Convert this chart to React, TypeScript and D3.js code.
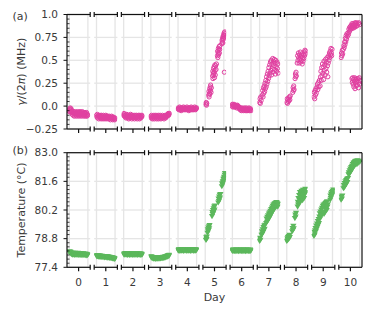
import React from "react";
import * as d3 from "d3";

// ---------- data (hour within day, value) ----------
const days = [0, 1, 2, 3, 4, 5, 6, 7, 8, 9, 10];

const gammaDay0 = [[0,-0.06],[0.4,-0.03],[0.8,-0.05],[1.2,-0.02],[1.6,-0.04],[2,-0.06],[2.4,-0.03],[2.8,-0.07],[3.2,-0.05],[3.8,-0.09],[4.3,-0.07],[4.8,-0.1],[5.3,-0.06],[5.8,-0.08],[6.3,-0.11],[6.8,-0.07],[7.3,-0.09],[7.8,-0.06],[8.3,-0.1],[8.8,-0.08],[9.3,-0.11],[9.8,-0.07],[10.3,-0.09],[10.8,-0.06],[11.3,-0.1],[11.8,-0.08],[12.3,-0.11],[12.8,-0.07],[13.3,-0.09],[13.8,-0.06],[14.3,-0.1],[14.8,-0.08],[15.3,-0.11],[15.8,-0.07],[16.3,-0.09],[16.8,-0.06],[17.3,-0.1],[17.8,-0.08],[18.3,-0.11],[18.8,-0.07],[19.3,-0.09],[19.8,-0.1],[20.3,-0.07],[20.8,-0.11],[21.3,-0.08],[21.8,-0.1],[22.3,-0.07],[22.8,-0.11],[23.3,-0.09],[23.8,-0.1]];
const gammaDay1 = [[0,-0.1],[0.5,-0.12],[1,-0.09],[1.5,-0.13],[2,-0.11],[2.5,-0.1],[3,-0.14],[3.5,-0.11],[4,-0.12],[4.5,-0.1],[5,-0.13],[5.5,-0.11],[6,-0.14],[6.5,-0.1],[7,-0.12],[7.5,-0.13],[8,-0.11],[8.5,-0.14],[9,-0.1],[9.5,-0.12],[10,-0.13],[10.5,-0.11],[11,-0.14],[11.5,-0.12],[12,-0.1],[12.5,-0.13],[13,-0.11],[13.5,-0.14],[14,-0.12],[14.5,-0.11],[15,-0.13],[15.5,-0.12],[16,-0.14],[16.5,-0.11],[17,-0.13],[17.5,-0.12],[18,-0.15],[18.5,-0.12],[19,-0.13],[19.5,-0.11],[20,-0.14],[20.5,-0.12],[21,-0.15],[21.5,-0.13],[22,-0.12],[22.5,-0.14],[23,-0.13],[23.5,-0.15],[24,-0.13]];
const gammaDay2 = [[0,-0.1],[0.5,-0.08],[1,-0.11],[1.5,-0.09],[2,-0.12],[2.5,-0.1],[3,-0.13],[3.5,-0.11],[4,-0.09],[4.5,-0.12],[5,-0.1],[5.5,-0.13],[6,-0.11],[6.5,-0.14],[7,-0.1],[7.5,-0.12],[8,-0.11],[8.5,-0.13],[9,-0.09],[9.5,-0.12],[10,-0.1],[10.5,-0.14],[11,-0.11],[11.5,-0.12],[12,-0.1],[12.5,-0.13],[13,-0.11],[13.5,-0.12],[14,-0.14],[14.5,-0.1],[15,-0.12],[15.5,-0.11],[16,-0.13],[16.5,-0.1],[17,-0.12],[17.5,-0.14],[18,-0.11],[18.5,-0.12],[19,-0.1],[19.5,-0.13],[20,-0.11],[20.5,-0.14],[21,-0.1],[21.5,-0.12],[22,-0.13],[22.5,-0.11],[23,-0.12],[23.5,-0.1],[24,-0.11]];
const gammaDay3 = [[0,-0.11],[0.5,-0.13],[1,-0.1],[1.5,-0.12],[2,-0.14],[2.5,-0.11],[3,-0.13],[3.5,-0.12],[4,-0.1],[4.5,-0.14],[5,-0.12],[5.5,-0.11],[6,-0.13],[6.5,-0.1],[7,-0.12],[7.5,-0.14],[8,-0.11],[8.5,-0.13],[9,-0.12],[9.5,-0.1],[10,-0.14],[10.5,-0.12],[11,-0.11],[11.5,-0.13],[12,-0.1],[12.5,-0.12],[13,-0.14],[13.5,-0.11],[14,-0.13],[14.5,-0.12],[15,-0.1],[15.5,-0.13],[16,-0.11],[16.5,-0.12],[17,-0.14],[17.5,-0.11],[18,-0.12],[18.5,-0.1],[19,-0.13],[19.5,-0.11],[20,-0.12],[20.5,-0.1],[21,-0.11],[21.5,-0.09],[22,-0.1],[22.5,-0.08],[23,-0.1],[23.5,-0.09],[24,-0.08]];
const gammaDay4 = [[0,-0.03],[0.5,-0.02],[1,-0.04],[1.5,-0.03],[2,-0.01],[2.5,-0.04],[3,-0.02],[3.5,-0.03],[4,-0.05],[4.5,-0.02],[5,-0.03],[5.5,-0.04],[6,-0.02],[6.5,-0.03],[7,-0.01],[7.5,-0.04],[8,-0.03],[8.5,-0.02],[9,-0.04],[9.5,-0.03],[10,-0.02],[10.5,-0.04],[11,-0.03],[11.5,-0.01],[12,-0.03],[12.5,-0.04],[13,-0.02],[13.5,-0.03],[14,-0.05],[14.5,-0.02],[15,-0.03],[15.5,-0.04],[16,-0.02],[16.5,-0.03],[17,-0.01],[17.5,-0.04],[18,-0.03],[18.5,-0.02],[19,-0.04],[19.5,-0.03],[20,-0.02],[20.5,-0.04],[21,-0.03],[21.5,-0.01],[22,-0.03],[22.5,-0.04],[23,-0.02],[23.5,-0.03],[24,-0.02]];
const gammaDay5 = [[1,0.02],[1.3,0.04],[1.7,0.01],[2,0.03],[4.5,0.12],[4.8,0.16],[5,0.1],[5.5,0.14],[5.8,0.19],[6,0.13],[6.5,0.21],[6.8,0.17],[7,0.23],[7.5,0.15],[8,0.2],[9.5,0.33],[9.8,0.38],[10,0.3],[10.5,0.36],[10.8,0.41],[11,0.34],[11.5,0.43],[11.8,0.37],[12,0.31],[12.5,0.45],[12.8,0.39],[13,0.34],[13.5,0.44],[14,0.4],[14.5,0.46],[15.8,0.55],[16,0.6],[16.3,0.53],[16.7,0.58],[17,0.63],[17.3,0.56],[17.7,0.61],[18,0.65],[18.3,0.58],[18.7,0.62],[19,0.66],[21.5,0.68],[21.8,0.72],[22,0.7],[22.5,0.74],[22.8,0.69],[23,0.76],[23.5,0.73],[23.8,0.78],[24,0.75],[24.5,0.8],[24.8,0.77],[25.2,0.81],[25.5,0.79],[24.7,0.37]];
const gammaDay6 = [[-0.5,0.0],[0,0.02],[0.5,-0.01],[1,0.01],[1.5,0.0],[2,0.02],[2.5,-0.01],[3,0.01],[3.5,0.0],[4,-0.01],[4.5,0.01],[5,0.0],[5.5,-0.02],[6,0.0],[6.5,0.01],[7,-0.01],[7.5,0.0],[8,-0.02],[8.5,-0.01],[9,-0.03],[9.5,-0.02],[10,-0.04],[10.5,-0.02],[11,-0.03],[11.5,-0.05],[12,-0.03],[12.5,-0.02],[13,-0.04],[13.5,-0.03],[14,-0.05],[14.5,-0.03],[15,-0.04],[15.5,-0.02],[16,-0.04],[16.5,-0.05],[17,-0.03],[17.5,-0.04],[18,-0.02],[18.5,-0.05],[19,-0.03],[19.5,-0.04],[20,-0.05],[20.5,-0.03],[21,-0.04],[21.5,-0.02],[22,-0.05],[22.5,-0.03],[23,-0.04],[23.5,-0.03],[24,-0.05]];
const gammaDay7 = [[0,0.04],[0.5,0.08],[1,0.03],[1.5,0.1],[2,0.06],[3.5,0.12],[4,0.17],[4.5,0.1],[5,0.2],[5.5,0.14],[6,0.22],[6.5,0.16],[7,0.25],[7.5,0.19],[8,0.28],[8.5,0.21],[9,0.32],[9.5,0.24],[10,0.35],[10.5,0.27],[11,0.38],[11.5,0.3],[12,0.42],[12.5,0.33],[13,0.45],[13.5,0.36],[14,0.48],[14.5,0.39],[15,0.5],[15.5,0.34],[16,0.46],[16.5,0.41],[17,0.52],[17.5,0.37],[18,0.49],[18.5,0.44],[19,0.51],[19.5,0.4],[20,0.47],[20.5,0.35],[21,0.5],[21.5,0.43],[22,0.38],[22.5,0.48],[23,0.41],[23.5,0.46],[24,0.36]];
const gammaDay8 = [[0,0.04],[0.5,0.08],[1,0.03],[1.5,0.07],[2,0.05],[2.5,0.09],[3,0.06],[3.5,0.1],[4,0.07],[4.5,0.11],[7.8,0.15],[8.2,0.2],[8.6,0.17],[9,0.22],[9.5,0.18],[10.8,0.3],[11.2,0.35],[11.6,0.32],[12,0.37],[12.4,0.33],[13.5,0.47],[14,0.55],[14.5,0.5],[15,0.58],[15.5,0.53],[16,0.47],[16.5,0.56],[17,0.51],[17.5,0.59],[18,0.48],[18.5,0.54],[19,0.5],[19.5,0.57],[20,0.46],[20.5,0.53],[21,0.49],[21.5,0.56],[22,0.52],[22.5,0.59],[23,0.55],[23.5,0.61],[24,0.57],[24.5,0.6]];
const gammaDay9 = [[0,0.1],[0.5,0.15],[1,0.08],[1.5,0.17],[2,0.12],[2.5,0.19],[3,0.14],[4,0.21],[4.5,0.24],[5,0.18],[6,0.26],[6.5,0.21],[7,0.28],[8,0.22],[8.5,0.32],[9,0.38],[9.5,0.28],[10,0.42],[10.5,0.33],[11,0.46],[11.5,0.36],[12,0.43],[12.5,0.29],[13,0.49],[13.5,0.39],[14,0.45],[14.5,0.34],[15,0.51],[15.5,0.41],[16,0.48],[16.5,0.37],[17,0.53],[17.5,0.44],[18,0.32],[18.5,0.47],[19,0.55],[19.5,0.5],[20,0.58],[20.5,0.53],[21,0.6],[21.5,0.56],[22,0.63],[22.5,0.58],[23,0.55],[23.5,0.62]];
const gammaDay10 = [[0,0.53],[0.5,0.58],[1,0.55],[1.5,0.61],[2,0.57],[3,0.62],[3.5,0.66],[4,0.64],[4.5,0.7],[5,0.67],[5.5,0.74],[6,0.7],[6.5,0.77],[7,0.73],[7.5,0.79],[8,0.76],[9,0.8],[9.5,0.78],[10,0.84],[10.5,0.81],[11,0.86],[11.5,0.83],[12,0.87],[12.5,0.84],[13,0.88],[13.5,0.85],[14,0.9],[14.5,0.86],[15,0.88],[15.5,0.85],[16,0.9],[16.5,0.87],[17,0.89],[17.5,0.86],[18,0.91],[18.5,0.88],[19,0.9],[19.5,0.87],[20,0.91],[21,0.88],[22,0.9],[23,0.91],[24,0.89],[14,0.3],[14.5,0.26],[15,0.31],[15.5,0.24],[16,0.29],[16.5,0.21],[17,0.27],[17.5,0.31],[18,0.19],[18.5,0.25],[19,0.29],[19.5,0.22],[20,0.3],[20.5,0.27],[21,0.23],[22,0.3],[22.5,0.2],[23,0.26],[23.5,0.31],[24,0.24],[24.5,0.28]];

const tempDay0 = [[0,78.16],[0.5,78.2],[1,78.12],[1.5,78.18],[2,78.1],[2.5,78.14],[3,78.06],[3.5,78.12],[4,78.03],[4.5,78.09],[5,78.13],[5.5,78.04],[6,78.1],[6.5,78.02],[7,78.08],[7.5,78.12],[8,78.03],[8.5,78.09],[9,78.05],[9.5,78.11],[10,78.02],[10.5,78.07],[11,78.12],[11.5,78.04],[12,78.09],[12.5,78.01],[13,78.07],[13.5,78.11],[14,78.03],[14.5,78.08],[15,78.02],[15.5,78.1],[16,78.05],[16.5,78.01],[17,78.08],[17.5,78.04],[18,78.1],[18.5,78.02],[19,78.07],[19.5,78.03],[20,78.09],[20.5,78.01],[21,78.06],[21.5,78.02],[22,78.08],[22.5,78.0],[23,78.05],[23.5,78.02],[24,78.04]];
const tempDay1 = [[0,78.0],[0.5,77.95],[1,78.02],[1.5,77.96],[2,77.99],[2.5,77.93],[3,78.0],[3.5,77.95],[4,77.98],[4.5,77.92],[5,77.99],[5.5,77.94],[6,77.97],[6.5,77.92],[7,77.98],[7.5,77.93],[8,77.96],[8.5,77.91],[9,77.97],[9.5,77.93],[10,77.96],[10.5,77.9],[11,77.95],[11.5,77.92],[12,77.96],[12.5,77.9],[13,77.94],[13.5,77.91],[14,77.95],[14.5,77.89],[15,77.94],[15.5,77.9],[16,77.93],[16.5,77.88],[17,77.93],[17.5,77.89],[18,77.92],[18.5,77.87],[19,77.91],[19.5,77.88],[20,77.9],[20.5,77.85],[21,77.89],[21.5,77.86],[22,77.88],[22.5,77.84],[23,77.87],[23.5,77.83],[24,77.85]];
const tempDay2 = [[0,78.08],[0.5,78.03],[1,78.1],[1.5,78.04],[2,78.07],[2.5,78.11],[3,78.03],[3.5,78.08],[4,78.05],[4.5,78.1],[5,78.02],[5.5,78.07],[6,78.11],[6.5,78.04],[7,78.08],[7.5,78.02],[8,78.06],[8.5,78.1],[9,78.03],[9.5,78.07],[10,78.05],[10.5,78.11],[11,78.02],[11.5,78.08],[12,78.04],[12.5,78.09],[13,78.03],[13.5,78.07],[14,78.1],[14.5,78.02],[15,78.06],[15.5,78.09],[16,78.03],[16.5,78.08],[17,78.05],[17.5,78.1],[18,78.02],[18.5,78.07],[19,78.04],[19.5,78.09],[20,78.03],[20.5,78.06],[21,78.1],[21.5,78.02],[22,78.07],[22.5,78.04],[23,78.09],[23.5,78.03],[24,78.06]];
const tempDay3 = [[0,77.96],[0.5,77.9],[1,77.94],[1.5,77.87],[2,77.92],[2.5,77.86],[3,77.9],[3.5,77.84],[4,77.89],[4.5,77.85],[5,77.91],[5.5,77.84],[6,77.88],[6.5,77.83],[7,77.9],[7.5,77.85],[8,77.88],[8.5,77.84],[9,77.9],[9.5,77.86],[10,77.89],[10.5,77.84],[11,77.9],[11.5,77.86],[12,77.91],[12.5,77.85],[13,77.89],[13.5,77.87],[14,77.92],[14.5,77.86],[15,77.9],[15.5,77.88],[16,77.93],[16.5,77.87],[17,77.91],[17.5,77.89],[18,77.94],[18.5,77.9],[19,77.95],[19.5,77.91],[20,77.96],[20.5,77.93],[21,77.98],[21.5,77.94],[22,78.0],[22.5,77.96],[23,78.02],[23.5,77.98],[24,78.03]];
const tempDay4 = [[0,78.27],[0.5,78.23],[1,78.3],[1.5,78.24],[2,78.28],[2.5,78.22],[3,78.29],[3.5,78.25],[4,78.31],[4.5,78.23],[5,78.27],[5.5,78.3],[6,78.24],[6.5,78.28],[7,78.22],[7.5,78.29],[8,78.25],[8.5,78.31],[9,78.23],[9.5,78.27],[10,78.3],[10.5,78.24],[11,78.28],[11.5,78.22],[12,78.29],[12.5,78.25],[13,78.31],[13.5,78.23],[14,78.27],[14.5,78.3],[15,78.24],[15.5,78.28],[16,78.22],[16.5,78.29],[17,78.25],[17.5,78.31],[18,78.23],[18.5,78.27],[19,78.3],[19.5,78.24],[20,78.28],[20.5,78.22],[21,78.29],[21.5,78.25],[22,78.3],[22.5,78.23],[23,78.28],[23.5,78.25],[24,78.29]];
const tempDay5 = [[1,78.75],[1.3,78.88],[1.7,78.8],[2,78.92],[3,79.1],[3.3,79.28],[3.7,79.18],[4,79.36],[4.4,79.24],[4.8,79.42],[5.2,79.32],[5.6,79.48],[8.8,79.92],[9.2,80.12],[9.6,80.02],[10,80.22],[10.4,80.08],[10.8,80.3],[11.2,80.16],[11.6,80.38],[12,80.24],[12.4,80.44],[16.8,80.58],[17.2,80.78],[17.6,80.66],[18,80.88],[18.4,80.74],[18.8,80.96],[19.2,80.82],[19.6,81.0],[21.5,81.38],[21.9,81.52],[22.3,81.46],[22.7,81.62],[23.1,81.56],[23.5,81.74],[23.9,81.66],[24.3,81.84],[24.7,81.78],[25.1,81.94],[25.5,82.02]];
const tempDay6 = [[-0.5,78.26],[0,78.22],[0.5,78.28],[1,78.21],[1.5,78.25],[2,78.29],[2.5,78.22],[3,78.26],[3.5,78.2],[4,78.27],[4.5,78.23],[5,78.29],[5.5,78.21],[6,78.25],[6.5,78.28],[7,78.22],[7.5,78.26],[8,78.2],[8.5,78.27],[9,78.23],[9.5,78.29],[10,78.21],[10.5,78.25],[11,78.28],[11.5,78.22],[12,78.26],[12.5,78.2],[13,78.27],[13.5,78.23],[14,78.29],[14.5,78.21],[15,78.25],[15.5,78.28],[16,78.22],[16.5,78.26],[17,78.2],[17.5,78.27],[18,78.23],[18.5,78.29],[19,78.21],[19.5,78.25],[20,78.28],[20.5,78.22],[21,78.26],[21.5,78.2],[22,78.27],[22.5,78.23],[23,78.28],[23.5,78.22],[24,78.25]];
const tempDay7 = [[0,78.7],[0.5,78.86],[1,78.76],[2.5,79.0],[3,79.18],[3.5,79.06],[4,79.28],[4.5,79.14],[5,79.38],[5.5,79.22],[6,79.46],[6.5,79.3],[7,79.5],[8.5,79.58],[9,79.8],[9.5,79.64],[10,79.88],[10.5,79.7],[11,79.96],[11.5,79.78],[12,80.04],[12.5,79.84],[13,80.1],[13.5,79.9],[14,80.18],[14.5,79.98],[15,80.26],[15.5,80.06],[16,80.34],[16.5,80.12],[17,80.42],[17.5,80.2],[18,80.48],[18.5,80.26],[19,80.52],[19.5,80.32],[20,80.56],[20.5,80.36],[21,80.58],[21.5,80.4],[22,80.6],[22.5,80.44],[23,80.55],[23.5,80.38],[24,80.52]];
const tempDay8 = [[0,78.7],[0.5,78.84],[1,78.74],[1.5,78.9],[2,78.8],[2.5,78.95],[3,78.84],[3.5,79.0],[4,78.9],[7,79.18],[7.5,79.34],[8,79.24],[8.5,79.44],[9,79.32],[10.5,79.82],[11,80.0],[11.5,79.9],[12,80.08],[14,80.38],[14.3,80.62],[14.7,80.48],[15,80.8],[15.5,80.56],[16,80.95],[16.5,80.7],[17,81.1],[17.5,80.6],[18,81.0],[18.5,80.75],[19,81.15],[19.5,80.85],[20,81.05],[20.5,80.7],[21,81.2],[21.5,80.9],[22,81.1],[22.5,80.8],[23,81.2],[23.5,81.0],[24,81.25],[24.5,81.1]];
const tempDay9 = [[0,78.95],[0.5,79.15],[1,79.02],[1.5,79.22],[2,79.34],[2.5,79.18],[3,79.46],[3.5,79.3],[4,79.56],[4.5,79.4],[5,79.68],[5.5,79.5],[6,79.78],[6.5,79.58],[7,79.9],[7.5,80.06],[8,79.8],[8.5,80.14],[9,79.92],[9.5,80.24],[10,79.98],[10.5,80.32],[11,80.06],[11.5,80.42],[12,80.14],[12.5,80.48],[13,80.02],[13.5,80.36],[14,80.52],[14.5,80.12],[15,80.56],[15.5,80.28],[16,80.6],[16.5,80.22],[17,80.64],[17.5,80.38],[18,80.5],[21,80.72],[21.3,80.92],[21.7,80.8],[22,81.02],[22.5,80.9],[23,81.1],[23.5,80.96],[24,81.16],[24.5,81.04],[25,81.22]];
const tempDay10 = [[0,80.72],[0.5,80.88],[1,80.78],[1.5,80.92],[3,81.28],[3.5,81.44],[4,81.32],[4.5,81.54],[5,81.4],[5.5,81.62],[6,81.46],[6.5,81.68],[7,81.52],[7.5,81.74],[8,81.58],[9,81.78],[9.5,81.96],[10,82.06],[10.5,81.98],[11,82.16],[11.5,82.04],[12,82.24],[12.5,82.1],[13,82.32],[13.5,82.18],[14,82.38],[14.5,82.24],[15,82.46],[15.5,82.3],[16,82.52],[16.5,82.36],[17,82.56],[17.5,82.4],[18,82.6],[18.5,82.44],[19,82.62],[19.5,82.48],[20,82.6],[20.5,82.46],[21,82.64],[22,82.52],[23,82.62],[24,82.56]];

const gammaByDay = [gammaDay0, gammaDay1, gammaDay2, gammaDay3, gammaDay4, gammaDay5, gammaDay6, gammaDay7, gammaDay8, gammaDay9, gammaDay10];
const tempByDay = [tempDay0, tempDay1, tempDay2, tempDay3, tempDay4, tempDay5, tempDay6, tempDay7, tempDay8, tempDay9, tempDay10];

const gammaTicks = [-0.25, 0, 0.25, 0.5, 0.75, 1.0];
const gammaTickLabels = ["\u22120.25", "0.0", "0.25", "0.5", "0.75", "1.0"];
const tempTicks = [77.4, 78.8, 80.2, 81.6, 83.0];
const tempTickLabels = ["77.4", "78.8", "80.2", "81.6", "83.0"];
const hourGrid = [0, 24];

// ---------- layout ----------
const X0 = 67;
const PERIOD = 27.18;
const SEG_W = 23.2;
const FONT = "DejaVu Sans, sans-serif";
const PINK = "#e040a0";
const GREEN = "#5cb85c";
const GRID = "#e5e5e5";
const TXT = "#3a3a3a";

const panels = [
  { key: "a", top: 14.5, bottom: 129, domain: [-0.25, 1.0], ticks: gammaTicks, labels: gammaTickLabels, minorStep: 0.05, data: gammaByDay, label: "(a)", labelY: 16.5, showX: false },
  { key: "b", top: 152.7, bottom: 267.3, domain: [77.4, 83.0], ticks: tempTicks, labels: tempTickLabels, minorStep: 0.2, data: tempByDay, label: "(b)", labelY: 150, showX: true },
];

function segScale(i: number) {
  const s = X0 + i * PERIOD;
  return d3.scaleLinear().domain([-3, 27]).range([s, s + SEG_W]);
}

const triPath = "M-3.1,-1.7L3.1,-1.7L0,3.4Z";

export default function App() {
  const W = 381, H = 315;
  return (
    <svg width={W} height={H} style={{ position: "absolute", left: 0, top: 0 }} fontFamily={FONT}>
      <defs>
        {panels.map((p) =>
          days.map((d, i) => {
            const xs = segScale(i);
            return (
              <clipPath id={`clip-${p.key}-${i}`} key={`${p.key}${i}`}>
                <rect x={xs.range()[0]} y={p.top} width={SEG_W} height={p.bottom - p.top} />
              </clipPath>
            );
          })
        )}
      </defs>
      {panels.map((p) => {
        const y = d3.scaleLinear().domain(p.domain).range([p.bottom, p.top]);
        const minors = d3.range(p.domain[0], p.domain[1] + 1e-9, p.minorStep).filter(
          (v) => !p.ticks.some((t) => Math.abs(t - v) < 1e-6)
        );
        return (
          <g key={p.key}>
            {days.map((d, i) => {
              const xs = segScale(i);
              const [x1, x2] = xs.range();
              return (
                <g key={`g${i}`}>
                  {p.ticks.map((t) => (
                    <line key={`h${t}`} x1={x1} x2={x2} y1={y(t)} y2={y(t)} stroke={GRID} strokeWidth={1.3} />
                  ))}
                  {hourGrid.map((h) => (
                    <line key={`v${h}`} x1={xs(h)} x2={xs(h)} y1={p.top} y2={p.bottom} stroke={GRID} strokeWidth={1.3} />
                  ))}
                </g>
              );
            })}
            {days.map((d, i) => {
              const xs = segScale(i);
              return (
                <g key={`d${i}`} clipPath={`url(#clip-${p.key}-${i})`}>
                  {p.data[i].map(([h, v], j) =>
                    p.key === "a" ? (
                      <circle key={j} cx={xs(h)} cy={y(v)} r={2.1} fill="none" stroke={PINK} strokeWidth={1} />
                    ) : (
                      <path key={j} d={triPath} transform={`translate(${xs(h)},${y(v)})`} fill={GREEN} />
                    )
                  )}
                </g>
              );
            })}
            {days.map((d, i) => {
              const xs = segScale(i);
              const [x1, x2] = xs.range();
              return (
                <g key={`s${i}`} stroke="#111" strokeWidth={1.2}>
                  <line x1={x1} x2={x2} y1={p.top} y2={p.top} />
                  <line x1={x1} x2={x2} y1={p.bottom} y2={p.bottom} />
                  {i === 0 ? (
                    <line x1={x1} x2={x1} y1={p.top} y2={p.bottom} />
                  ) : (
                    <g>
                      <line x1={x1} x2={x1} y1={p.top - 2.5} y2={p.top + 2.5} />
                      <line x1={x1} x2={x1} y1={p.bottom - 2.5} y2={p.bottom + 2.5} />
                    </g>
                  )}
                  {i === days.length - 1 ? (
                    <line x1={x2} x2={x2} y1={p.top} y2={p.bottom} />
                  ) : (
                    <g>
                      <line x1={x2} x2={x2} y1={p.top - 2.5} y2={p.top + 2.5} />
                      <line x1={x2} x2={x2} y1={p.bottom - 2.5} y2={p.bottom + 2.5} />
                    </g>
                  )}
                  <line x1={xs(12)} x2={xs(12)} y1={p.bottom} y2={p.bottom + 4} />
                </g>
              );
            })}
            <g stroke="#111" strokeWidth={1}>
              {p.ticks.map((t) => (
                <line key={`mt${t}`} x1={X0 - 3.5} x2={X0} y1={y(t)} y2={y(t)} />
              ))}
              {minors.map((t) => (
                <line key={`mn${t}`} x1={X0} x2={X0 + 2.5} y1={y(t)} y2={y(t)} strokeWidth={0.8} />
              ))}
            </g>
            {p.ticks.map((t, k) => (
              <text key={`tl${t}`} x={58} y={y(t)} dy="0.35em" textAnchor="end" fontSize={10.5} fill={TXT}>
                {p.labels[k]}
              </text>
            ))}
            <text x={12.5} y={p.labelY} dy="0.35em" fontSize={11} fill={TXT}>{p.label}</text>
            {p.showX &&
              days.map((d, i) => (
                <text key={`xl${d}`} x={segScale(i)(12)} y={282} dy="0.35em" textAnchor="middle" fontSize={10.5} fill={TXT}>
                  {d}
                </text>
              ))}
          </g>
        );
      })}
      <text transform={`translate(21,71.75) rotate(-90)`} textAnchor="middle" dy="0.35em" fontSize={11} fill={TXT}>
        <tspan fontStyle="italic">γ</tspan>/(2<tspan fontStyle="italic">π</tspan>) (MHz)
      </text>
      <text transform={`translate(21,210) rotate(-90)`} textAnchor="middle" dy="0.35em" fontSize={11} fill={TXT}>
        Temperature (°C)
      </text>
      <text x={214.5} y={297} dy="0.35em" textAnchor="middle" fontSize={11} fill={TXT}>Day</text>
    </svg>
  );
}
